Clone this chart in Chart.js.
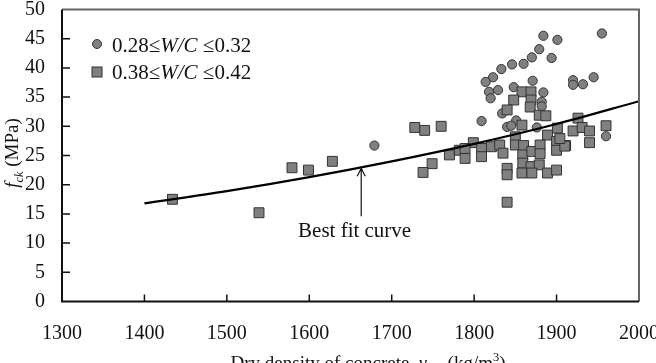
<!DOCTYPE html>
<html>
<head>
<meta charset="utf-8">
<script src="https://cdn.jsdelivr.net/npm/chart.js@4.4.1/dist/chart.umd.min.js"></script>
<style>
  html, body { margin: 0; padding: 0; background: #fff; }
  #wrap { width: 656px; height: 363px; }
</style>
</head>
<body>
<div id="wrap"><canvas id="chartFck" width="656" height="363"></canvas></div>
<script>
// W/C 0.28-0.32 (circles)
const circleDensity = [1955, 1884, 1901, 1879, 1894, 1870, 1860, 1846, 1833, 1823, 1814, 1829, 1818, 1820, 1871, 1848,
  1884, 1920, 1920, 1932, 1945, 1882, 1882, 1834, 1809, 1851, 1840, 1845, 1876, 1960, 1679];
const circleStrength = [45.9, 45.5, 44.8, 43.2, 41.7, 41.8, 40.7, 40.6, 39.8, 38.4, 37.6, 36.2, 35.9, 34.8, 37.8, 36.7,
  35.8, 37.9, 37.1, 37.2, 38.4, 34.2, 33.4, 32.2, 30.9, 31.0, 29.9, 30.1, 29.8, 28.3, 26.7];

// W/C 0.38-0.42 (squares)
const squareDensity = [1434, 1539, 1579, 1599, 1628, 1728, 1740, 1760, 1749, 1738, 1770, 1782,
  1858, 1869, 1848, 1869, 1840, 1868, 1879, 1887, 1858, 1926, 1901, 1920, 1931, 1940, 1960, 1889, 1850,
  1799, 1789, 1789, 1809, 1809, 1821, 1831, 1835, 1850, 1860, 1859, 1870, 1880, 1880, 1900, 1900, 1911,
  1940, 1859, 1869, 1879, 1858, 1870, 1889, 1900, 1840, 1840, 1840, 1910, 1904];
const squareStrength = [17.5, 15.2, 22.9, 22.5, 24.0, 29.8, 29.3, 30.0, 23.6, 22.1, 25.1, 25.9,
  35.9, 35.9, 34.5, 34.5, 32.8, 33.3, 31.9, 31.8, 30.2, 31.4, 29.7, 29.2, 29.8, 29.2, 30.1, 28.5, 28.2,
  27.2, 26.2, 24.5, 26.2, 24.8, 26.5, 26.8, 25.4, 26.8, 26.7, 25.1, 25.7, 26.8, 25.3, 27.4, 25.9, 26.7,
  27.2, 23.7, 23.1, 23.4, 22.0, 22.0, 22.0, 22.5, 22.8, 21.7, 17.0, 26.6, 27.9];

// best fit curve
const curveDensity = [1400, 1500, 1600, 1700, 1800, 1900, 2000];
const curveStrength = [16.8, 18.9, 21.3, 24.0, 27.0, 30.4, 34.3];

const seriesLabels = ["0.28\u2264W/C \u22640.32", "0.38\u2264W/C \u22640.42"];
const xTicks = [1300, 1400, 1500, 1600, 1700, 1800, 1900, 2000];
const yTicks = [0, 5, 10, 15, 20, 25, 30, 35, 40, 45, 50];

const serif = "'Liberation Serif', 'Times New Roman', serif";
const markerFill = '#808080';
const markerEdge = '#333333';

const toPoints = (xs, ys) => xs.map((x, i) => ({ x: x, y: ys[i] }));

// draws text made of pieces (italic / sub / sup)
function drawRich(ctx, parts, x, y, size, align) {
  const widths = parts.map(p => {
    const s = p.sub || p.sup ? size * 0.65 : size;
    ctx.font = (p.italic ? 'italic ' : '') + s + 'px ' + serif;
    return ctx.measureText(p.t).width;
  });
  const total = widths.reduce((a, b) => a + b, 0);
  let cx = align === 'center' ? x - total / 2 : x;
  ctx.textAlign = 'left';
  ctx.textBaseline = 'alphabetic';
  parts.forEach((p, i) => {
    const s = p.sub || p.sup ? size * 0.65 : size;
    ctx.font = (p.italic ? 'italic ' : '') + s + 'px ' + serif;
    let dy = 0;
    if (p.sub) dy = size * 0.25;
    if (p.sup) dy = -size * 0.4;
    ctx.fillText(p.t, cx, y + dy);
    cx += widths[i];
  });
}

const framePlugin = {
  id: 'frame',
  afterDraw(chart) {
    const ctx = chart.ctx;
    const area = chart.chartArea;
    const xs = chart.scales.x;
    const ys = chart.scales.y;
    ctx.save();

    // top and right border
    ctx.strokeStyle = '#666';
    ctx.lineWidth = 2;
    ctx.beginPath();
    ctx.moveTo(area.left, area.top);
    ctx.lineTo(area.right, area.top);
    ctx.lineTo(area.right, area.bottom);
    ctx.stroke();

    // axes
    ctx.strokeStyle = '#111';
    ctx.lineWidth = 2;
    ctx.beginPath();
    ctx.moveTo(area.left, area.top);
    ctx.lineTo(area.left, area.bottom);
    ctx.lineTo(area.right, area.bottom);
    ctx.stroke();

    // inner tick marks
    ctx.lineWidth = 1.5;
    ctx.beginPath();
    yTicks.forEach(v => {
      if (v === 0 || v === 50) return;
      const py = ys.getPixelForValue(v);
      ctx.moveTo(area.left, py);
      ctx.lineTo(area.left + 8, py);
    });
    xTicks.forEach(v => {
      if (v === 1300 || v === 2000) return;
      const px = xs.getPixelForValue(v);
      ctx.moveTo(px, area.bottom);
      ctx.lineTo(px, area.bottom - 7);
    });
    ctx.stroke();

    // legend
    ctx.fillStyle = markerFill;
    ctx.strokeStyle = markerEdge;
    ctx.lineWidth = 1;
    ctx.beginPath();
    ctx.arc(97, 44, 4.5, 0, Math.PI * 2);
    ctx.fill();
    ctx.stroke();
    ctx.fillRect(92, 67, 10, 10);
    ctx.strokeRect(92, 67, 10, 10);
    ctx.fillStyle = '#111';
    drawRich(ctx, [{ t: '0.28\u2264' }, { t: 'W/C', italic: true }, { t: ' \u22640.32' }], 112, 52, 21, 'left');
    drawRich(ctx, [{ t: '0.38\u2264' }, { t: 'W/C', italic: true }, { t: ' \u22640.42' }], 112, 79, 21, 'left');

    // best fit annotation
    const ax = xs.getPixelForValue(1663);
    const aTop = ys.getPixelForValue(22.8);
    const aBot = ys.getPixelForValue(14.6);
    ctx.strokeStyle = '#111';
    ctx.lineWidth = 1.2;
    ctx.beginPath();
    ctx.moveTo(ax, aBot);
    ctx.lineTo(ax, aTop);
    ctx.moveTo(ax - 4, aTop + 8);
    ctx.lineTo(ax, aTop);
    ctx.lineTo(ax + 4, aTop + 8);
    ctx.stroke();
    drawRich(ctx, [{ t: 'Best fit curve' }], xs.getPixelForValue(1655), ys.getPixelForValue(11.0), 21, 'center');

    // axis titles
    drawRich(ctx, [{ t: 'Dry density of concrete, ' }, { t: '\u03b3', italic: true }, { t: 'dry', sub: true, italic: true },
      { t: ' (kg/m' }, { t: '3', sup: true }, { t: ')' }], 368, 369, 19, 'center');
    ctx.translate(18, 153);
    ctx.rotate(-Math.PI / 2);
    drawRich(ctx, [{ t: 'f', italic: true }, { t: 'ck', sub: true, italic: true }, { t: ' (MPa)' }], 0, 0, 19, 'center');

    ctx.restore();
  }
};

const ctx = document.getElementById('chartFck').getContext('2d');
new Chart(ctx, {
  type: 'scatter',
  data: {
    datasets: [
      {
        label: 'Best fit curve',
        data: toPoints(curveDensity, curveStrength),
        showLine: true,
        cubicInterpolationMode: 'monotone',
        borderColor: '#000',
        borderWidth: 2.2,
        pointRadius: 0,
        fill: false
      },
      {
        label: seriesLabels[1],
        data: toPoints(squareDensity, squareStrength),
        pointStyle: 'rect',
        pointRadius: 7,
        backgroundColor: markerFill,
        borderColor: markerEdge,
        borderWidth: 1
      },
      {
        label: seriesLabels[0],
        data: toPoints(circleDensity, circleStrength),
        pointStyle: 'circle',
        pointRadius: 4.6,
        backgroundColor: markerFill,
        borderColor: markerEdge,
        borderWidth: 1
      }
    ]
  },
  options: {
    responsive: false,
    animation: false,
    layout: { padding: { top: 9.5, right: 17, left: 0, bottom: 0 } },
    plugins: {
      legend: { display: false },
      tooltip: { enabled: false }
    },
    scales: {
      x: {
        type: 'linear',
        min: 1300,
        max: 2000,
        afterBuildTicks: scale => { scale.ticks = xTicks.map(v => ({ value: v })); },
        afterFit: scale => { scale.height = 61.5; scale.paddingLeft = 0; scale.paddingRight = 0; },
        grid: { display: false, drawTicks: false },
        border: { display: false },
        ticks: {
          color: '#111', padding: 20, maxRotation: 0,
          font: { family: serif, size: 20 },
          callback: v => String(v)
        }
      },
      y: {
        min: 0,
        max: 50,
        afterBuildTicks: scale => { scale.ticks = yTicks.map(v => ({ value: v })); },
        afterFit: scale => { scale.width = 62; scale.paddingTop = 0; scale.paddingBottom = 0; },
        grid: { display: false, drawTicks: false },
        border: { display: false },
        ticks: { color: '#111', padding: 17, font: { family: serif, size: 20 } }
      }
    }
  },
  plugins: [framePlugin]
});
</script>
</body>
</html>
